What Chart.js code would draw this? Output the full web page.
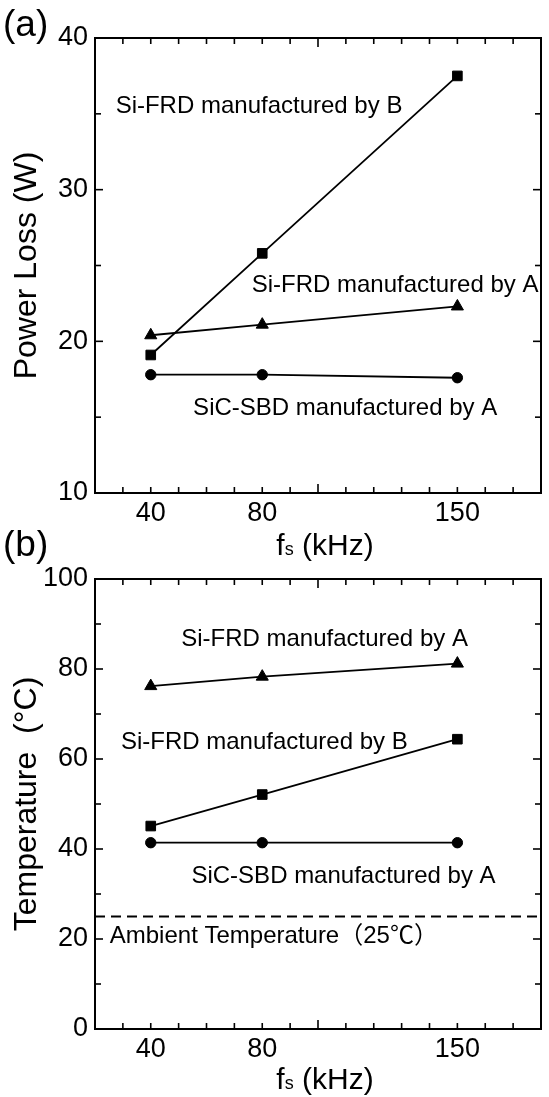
<!DOCTYPE html>
<html><head><meta charset="utf-8">
<script src="https://cdn.jsdelivr.net/npm/chart.js@4.4.0/dist/chart.umd.min.js"></script>
<style>
html,body{margin:0;padding:0;background:#fff;}
#wrap{position:relative;width:549px;height:1097px;overflow:hidden;background:#fff;}
canvas{position:absolute;left:0;}
#c1{top:0;width:549px;height:575px;}
#c2{top:530px;width:549px;height:567px;}
</style></head><body>
<div id="wrap"><canvas id="c1" width="549" height="575"></canvas><canvas id="c2" width="549" height="567"></canvas></div>
<script>
// ---- data ----
const freqs = [40, 80, 150];                 // switching frequency fs (kHz)
const xTickLabels = [40, 80, 150];
const lossSiFrdB = [19.1, 25.8, 37.5];       // Power loss (W)
const lossSiFrdA = [20.4, 21.1, 22.3];
const lossSicSbdA = [17.8, 17.8, 17.6];
const tempSiFrdA = [76.2, 78.3, 81.2];       // Temperature (°C)
const tempSiFrdB = [45.1, 52.1, 64.4];
const tempSicSbdA = [41.4, 41.4, 41.4];
const ambientTemp = 25;
const lossTicks = [10, 20, 30, 40];
const tempTicks = [0, 20, 40, 60, 80, 100];

const FONT = "'Liberation Sans', Arial, 'Noto Sans CJK JP', sans-serif";
Chart.defaults.color = '#000';
Chart.defaults.font.family = FONT;

function pts(ys) { return freqs.map((x, i) => ({x: x, y: ys[i]})); }
function series(label, ys, style, r) {
  return {label: label, data: pts(ys), borderColor: '#000', backgroundColor: '#000',
    borderWidth: 1.8, pointStyle: style, pointRadius: r, pointBorderWidth: 1,
    pointBackgroundColor: '#000', pointBorderColor: '#000', tension: 0, clip: false};
}

const framePlugin = {
  id: 'frameTicks',
  afterDraw(chart, args, o) {
    const ctx = chart.ctx, a = chart.chartArea, x = chart.scales.x, y = chart.scales.y;
    ctx.save();
    ctx.strokeStyle = '#000';
    ctx.lineWidth = 1.6;
    const seg = (x1, y1, x2, y2) => { ctx.beginPath(); ctx.moveTo(x1, y1); ctx.lineTo(x2, y2); ctx.stroke(); };
    for (let v = x.min + 10; v < x.max - 1e-6; v += 10) {
      const px = x.getPixelForValue(v);
      const len = (Math.round(v) % 100 === 0) ? 9 : 6;
      seg(px, a.bottom, px, a.bottom - len);
      seg(px, a.top, px, a.top + len);
    }
    for (let v = y.min + o.yMinor; v < y.max - 1e-6; v += o.yMinor) {
      const py = y.getPixelForValue(v);
      const major = Math.abs(Math.round((v - y.min) / o.yMajor) * o.yMajor - (v - y.min)) < 1e-6;
      const len = major ? 8 : 6;
      seg(a.left, py, a.left + len, py);
      seg(a.right, py, a.right - len, py);
    }
    ctx.lineWidth = 2;
    ctx.strokeRect(a.left, a.top, a.right - a.left, a.bottom - a.top);
    // annotations
    ctx.fillStyle = '#000';
    ctx.textAlign = 'left';
    ctx.textBaseline = 'middle';
    ctx.font = '24px ' + FONT;
    o.labels.forEach(t => ctx.fillText(t.text, x.getPixelForValue(t.x), y.getPixelForValue(t.y)));
    // x title: f_s (kHz)
    ctx.textBaseline = 'alphabetic';
    const big = '30px ' + FONT, small = '18px ' + FONT;
    ctx.font = big; const wf = ctx.measureText('f').width; const wk = ctx.measureText(' (kHz)').width;
    ctx.font = small; const ws = ctx.measureText('s').width;
    let sx = (a.left + a.right) / 2 + 7 - (wf + ws + wk) / 2;
    const by = a.bottom + o.titleGap;
    ctx.font = big; ctx.fillText('f', sx, by); sx += wf;
    ctx.font = small; ctx.fillText('s', sx, by); sx += ws;
    ctx.font = big; ctx.fillText(' (kHz)', sx, by);
    // panel label
    ctx.font = '37px ' + FONT;
    ctx.fillText(o.panel, 3, o.panelY);
    ctx.restore();
  }
};

function makeChart(id, datasets, yMin, yMax, yTicks, yTitle, opts, pad, xHeight) {
  return new Chart(document.getElementById(id), {
    type: 'line',
    data: {datasets: datasets},
    plugins: [framePlugin],
    options: {
      responsive: false, animation: false, devicePixelRatio: 1,
      layout: {padding: {top: pad, right: 1, left: 0, bottom: 0}},
      plugins: {legend: {display: false}, tooltip: {enabled: false}, frameTicks: opts},
      scales: {
        x: {type: 'linear', min: 20, max: 180,
          afterBuildTicks: s => { s.ticks = xTickLabels.map(v => ({value: v})); },
          afterFit: s => { s.height = xHeight; },
          grid: {display: false, drawTicks: false}, border: {display: false},
          ticks: {font: {size: 27}, padding: 4.5, maxRotation: 0, autoSkip: false, color: '#000'}},
        y: {type: 'linear', min: yMin, max: yMax,
          afterBuildTicks: s => { s.ticks = yTicks.map(v => ({value: v})); },
          afterFit: s => { s.width = 95; },
          grid: {display: false, drawTicks: false}, border: {display: false},
          ticks: {font: {size: 27}, padding: 7, color: '#000'},
          title: {display: true, text: yTitle, font: {size: 32}, padding: {top: 8, bottom: 0}, color: '#000'}}
      }
    }
  });
}

makeChart('c1', [
  series('Si-FRD manufactured by B', lossSiFrdB, 'rect', 6.8),
  series('Si-FRD manufactured by A', lossSiFrdA, 'triangle', 7),
  series('SiC-SBD manufactured by A', lossSicSbdA, 'circle', 5.2)
], 10, 40, lossTicks, 'Power Loss (W)', {
  yMinor: 5, yMajor: 10, titleGap: 62, panel: '(a)', panelY: 36,
  labels: [
    {text: 'Si-FRD manufactured by B', x: 27.4, y: 35.5},
    {text: 'Si-FRD manufactured by A', x: 76.2, y: 23.66},
    {text: 'SiC-SBD manufactured by A', x: 55.2, y: 15.58}
  ]
}, 38, 82);

const ambientLine = {label: 'Ambient', data: [{x: 20, y: ambientTemp}, {x: 180, y: ambientTemp}],
  borderColor: '#000', borderWidth: 1.8, borderDash: [10, 6], pointRadius: 0, tension: 0};

makeChart('c2', [
  series('Si-FRD manufactured by A', tempSiFrdA, 'triangle', 7),
  series('Si-FRD manufactured by B', tempSiFrdB, 'rect', 6.8),
  series('SiC-SBD manufactured by A', tempSicSbdA, 'circle', 5.2),
  ambientLine
], 0, 100, tempTicks, 'Temperature  (°C)', {
  yMinor: 10, yMajor: 20, titleGap: 60, panel: '(b)', panelY: 26,
  labels: [
    {text: 'Si-FRD manufactured by A', x: 50.9, y: 86.5},
    {text: 'Si-FRD manufactured by B', x: 29.3, y: 63.7},
    {text: 'SiC-SBD manufactured by A', x: 54.6, y: 34.0},
    {text: 'Ambient Temperature（25℃）', x: 25.3, y: 20.5}
  ]
}, 49, 68);
</script>
</body></html>
